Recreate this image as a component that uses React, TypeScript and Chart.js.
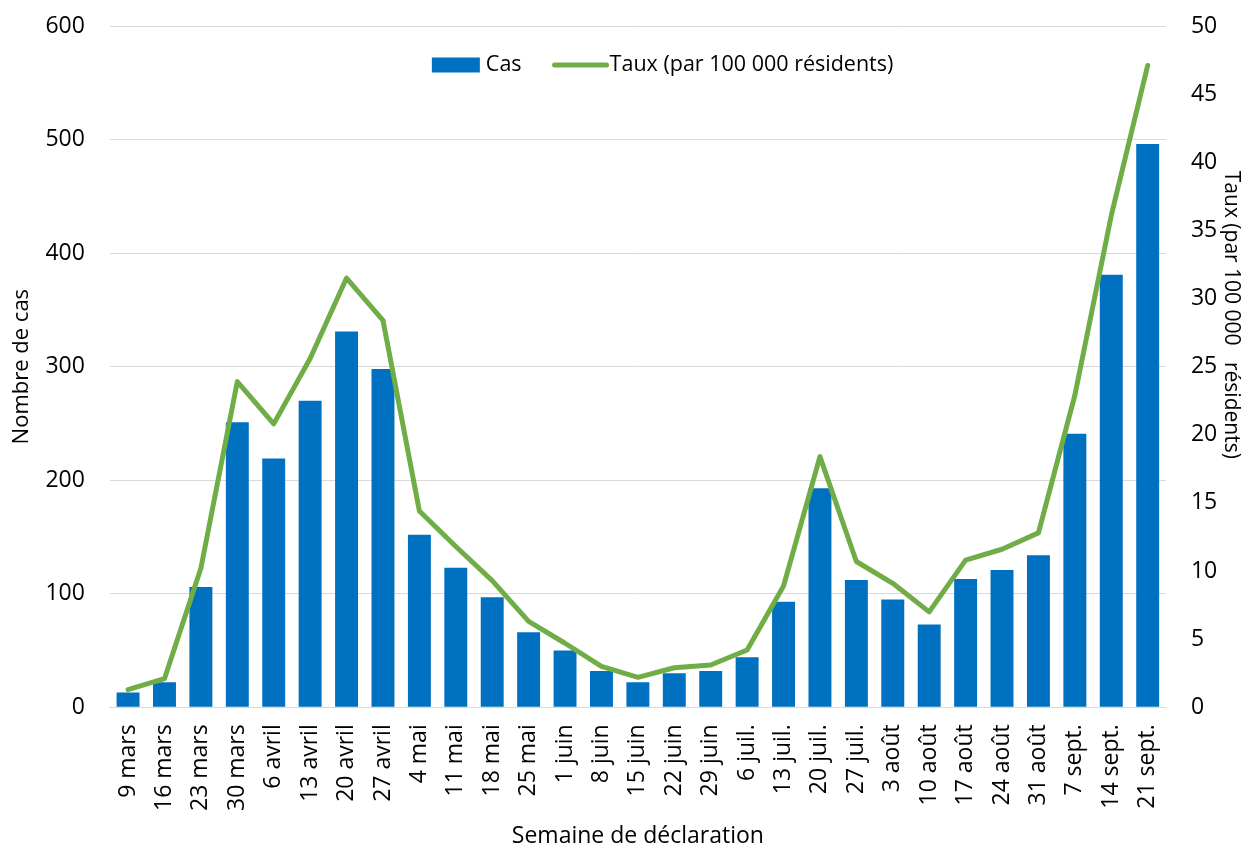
import React, { useEffect, useRef } from "react";
import { Chart, registerables } from "chart.js";

Chart.register(...registerables);

const categories = [
  "9 mars", "16 mars", "23 mars", "30 mars", "6 avril", "13 avril", "20 avril", "27 avril",
  "4 mai", "11 mai", "18 mai", "25 mai", "1 juin", "8 juin", "15 juin", "22 juin", "29 juin",
  "6 juil.", "13 juil.", "20 juil.", "27 juil.", "3 août", "10 août", "17 août", "24 août",
  "31 août", "7 sept.", "14 sept.", "21 sept.",
];

const cases = [
  13, 22, 106, 251, 219, 270, 331, 298, 152, 123, 97, 66, 50, 32, 22, 30, 32, 44, 93, 193,
  112, 95, 73, 113, 121, 134, 241, 381, 496,
];

const rates = [
  1.3, 2.1, 10.2, 23.9, 20.8, 25.6, 31.5, 28.4, 14.4, 11.8, 9.3, 6.3, 4.7, 3.0, 2.2, 2.9, 3.1,
  4.2, 8.9, 18.4, 10.7, 9.1, 7.0, 10.8, 11.6, 12.8, 22.9, 36.1, 47.1,
];

const leftTicks = [0, 100, 200, 300, 400, 500, 600];
const rightTicks = [0, 5, 10, 15, 20, 25, 30, 35, 40, 45, 50];

const BLUE = "#0070C0";
const GREEN = "#70AD47";
const GRID = "#d9d9d9";
const CLEAR = "rgba(0,0,0,0)";
const FONT = "'Open Sans', 'Noto Sans', sans-serif";

const legendPlugin = {
  id: "customLegend",
  afterDraw(chart: any) {
    const ctx = chart.ctx;
    const area = chart.chartArea;
    ctx.save();
    ctx.font = `21.5px ${FONT}`;
    ctx.textBaseline = "middle";
    const casLabel = chart.data.datasets[1].label;
    const tauxLabel = chart.data.datasets[0].label;
    const boxW = 48;
    const boxH = 15;
    let x = area.left + 322;
    const y = area.top + 39;
    ctx.fillStyle = BLUE;
    ctx.fillRect(x, y - boxH / 2, boxW, boxH);
    x += boxW + 6;
    ctx.fillStyle = "#000";
    ctx.fillText(casLabel, x, y);
    x += ctx.measureText(casLabel).width + 33;
    ctx.strokeStyle = GREEN;
    ctx.lineWidth = 5;
    ctx.lineCap = "round";
    ctx.beginPath();
    ctx.moveTo(x, y);
    ctx.lineTo(x + 52, y);
    ctx.stroke();
    x += 52 + 3;
    ctx.fillText(tauxLabel, x, y);
    ctx.restore();
  },
};

export default function App() {
  const canvasRef = useRef<HTMLCanvasElement | null>(null);

  useEffect(() => {
    document.body.style.margin = "0";
    const canvas = canvasRef.current;
    if (!canvas) return;
    Chart.defaults.font.family = FONT;
    Chart.defaults.color = "#000";
    const chart = new Chart(canvas, {
      type: "bar",
      data: {
        labels: categories,
        datasets: [
          {
            type: "line",
            label: "Taux (par 100 000 résidents)",
            data: rates,
            yAxisID: "y1",
            borderColor: GREEN,
            backgroundColor: GREEN,
            borderWidth: 5,
            pointRadius: 0,
            tension: 0,
            borderCapStyle: "round",
            borderJoinStyle: "round",
            order: 0,
          } as any,
          {
            type: "bar",
            label: "Cas",
            data: cases,
            yAxisID: "y",
            backgroundColor: BLUE,
            categoryPercentage: 1,
            barPercentage: 0.63,
            order: 1,
          },
        ],
      },
      options: {
        animation: false,
        responsive: false,
        maintainAspectRatio: false,
        layout: { padding: { left: 0, right: 0, top: 26, bottom: 0 } },
        plugins: {
          legend: { display: false },
          tooltip: { enabled: false },
        },
        scales: {
          x: {
            grid: {
              display: true,
              drawOnChartArea: false,
              drawTicks: true,
              tickLength: 12,
              color: CLEAR,
              tickColor: CLEAR,
            },
            border: { display: true, color: GRID, width: 1 },
            ticks: {
              minRotation: 90,
              maxRotation: 90,
              autoSkip: false,
              padding: 5,
              font: { size: 23 },
              color: "#000",
            },
            title: {
              display: true,
              text: "Semaine de déclaration",
              font: { size: 23, lineHeight: 1.0 },
              color: "#000",
              padding: { top: 9, bottom: 0 },
            },
          },
          y: {
            position: "left",
            min: 0,
            max: 600,
            afterBuildTicks: (axis: any) => {
              axis.ticks = leftTicks.map((v) => ({ value: v }));
            },
            grid: { color: GRID, lineWidth: 1, drawTicks: true, tickLength: 20, tickColor: CLEAR },
            border: { display: false },
            ticks: { font: { size: 23 }, color: "#000", padding: 5 },
            title: {
              display: true,
              text: "Nombre de cas",
              font: { size: 22 },
              color: "#000",
              padding: { top: 9, bottom: 5 },
            },
          },
          y1: {
            position: "right",
            min: 0,
            max: 50,
            afterBuildTicks: (axis: any) => {
              axis.ticks = rightTicks.map((v) => ({ value: v }));
            },
            grid: { display: true, drawOnChartArea: false, drawTicks: true, tickLength: 20, color: CLEAR, tickColor: CLEAR },
            border: { display: false },
            ticks: { font: { size: 23 }, color: "#000", padding: 5 },
            title: {
              display: true,
              text: "Taux (par 100 000   résidents)                   ",
              font: { size: 21, lineHeight: 0.8 },
              color: "#000",
              padding: { top: 17, bottom: 0 },
            },
          },
        },
      },
      plugins: [legendPlugin],
    });
    return () => chart.destroy();
  }, []);

  return (
    <div style={{ width: 1256, height: 848 }}>
      <canvas ref={canvasRef} width={1256} height={848} style={{ display: "block" }} />
    </div>
  );
}
